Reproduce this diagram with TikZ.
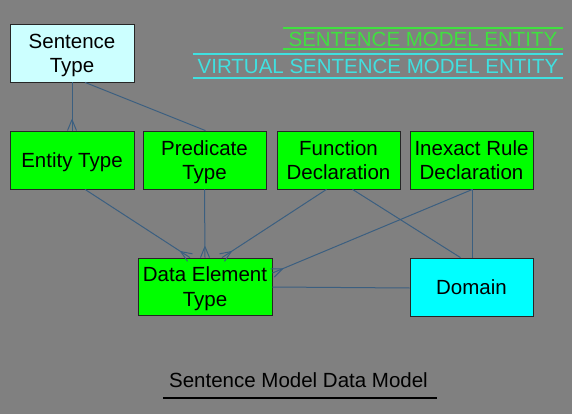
\documentclass[tikz,border=0pt]{standalone}
\usepackage{fontspec}
\setmainfont{Liberation Sans}
\usetikzlibrary{decorations.markings}
\definecolor{bg}{HTML}{808080}
\definecolor{ent}{HTML}{00FF00}
\definecolor{virt}{HTML}{00FFFF}
\definecolor{pale}{HTML}{CCFFFF}
\definecolor{conncol}{HTML}{3B5F80}
\definecolor{leggreen}{HTML}{40E040}
\definecolor{legcyan}{HTML}{40E0E0}
\newcommand{\lstrut}{\rule[-4pt]{0pt}{23pt}}
\tikzset{
  box/.style={draw=black!85, line width=0.8pt, rectangle, align=center, inner sep=0pt,
    font=\fontsize{20.5}{24.5}\selectfont, text=black},
  entbox/.style={box, fill=ent},
  virtbox/.style={box, fill=virt},
  conn/.style={draw=conncol, line width=1pt},
  crow/.style={conn, decoration={markings, mark=at position 1 with {
      \draw[conncol, line width=1pt] (-11pt,0) -- (0,4.5pt) (-11pt,0) -- (0,-4.5pt);}},
    postaction={decorate}},
  legtext/.style={font=\fontsize{20.5}{24}\selectfont, inner sep=0pt}
}
\begin{document}
\begin{tikzpicture}[x=1pt,y=-1pt]
\fill[bg] (0,0) rectangle (572,414);
\useasboundingbox (0,0) rectangle (572,414);

\node[box, fill=pale, minimum width=124pt, minimum height=58pt] (st) at (72,53) {\lstrut Sentence\\\lstrut Type};
\node[entbox, minimum width=124pt, minimum height=58pt] (et) at (72,160) {\lstrut Entity Type};
\node[entbox, minimum width=123pt, minimum height=58pt] (pt) at (204.5,160) {\lstrut Predicate\\\lstrut Type};
\node[entbox, minimum width=123pt, minimum height=58pt] (fd) at (338.5,160) {\lstrut Function\\\lstrut Declaration};
\node[entbox, minimum width=123pt, minimum height=58pt] (ir) at (471.5,160) {\lstrut Inexact Rule\\\lstrut Declaration};
\node[entbox, minimum width=134pt, minimum height=57pt] (de) at (205,286.5) {\lstrut Data Element\\\lstrut Type};
\node[virtbox, minimum width=123pt, minimum height=58pt] (dom) at (471.5,287) {\lstrut Domain};

% connectors
\draw[crow] (st.south) -- (et.north);
\draw[conn] ([xshift=13pt]st.south) -- ([xshift=1pt]pt.north);
\draw[crow] ([xshift=13pt]et.south) -- ([xshift=-15pt]de.north);
\draw[crow] (pt.south) -- (de.north);
\draw[crow] ([xshift=-12pt]fd.south) -- ([xshift=17pt]de.north);
\draw[conn] ([xshift=14pt]fd.south) -- ([xshift=-11pt]dom.north);
\draw[crow] ([xshift=1pt]ir.south) -- ([yshift=13.5pt]de.east);
\draw[conn] ([xshift=1pt]ir.south) -- ([xshift=1pt]dom.north);
\draw[conn] ([yshift=-0.5pt]de.east) -- ([yshift=-1pt]dom.west);

% legend
\coordinate (g1a) at (283,28); \coordinate (g1b) at (563,28);
\coordinate (g2a) at (283,49); \coordinate (g2b) at (563,49);
\coordinate (c1a) at (193,54); \coordinate (c1b) at (563,54);
\coordinate (c2a) at (193,78); \coordinate (c2b) at (563,78);
\draw[leggreen, line width=2pt] (g1a) -- (g1b) (g2a) -- (g2b);
\draw[legcyan, line width=2pt] (c1a) -- (c1b) (c2a) -- (c2b);
\node[legtext, text=leggreen] (lg) at (423,39) {SENTENCE MODEL ENTITY};
\node[legtext, text=legcyan] (lc) at (378,66) {VIRTUAL SENTENCE MODEL ENTITY};

% title
\node[legtext, text=black] (title) at (298.5,380) {Sentence Model Data Model};
\coordinate (ula) at (163,398); \coordinate (ulb) at (437,398);
\draw[black, line width=2pt] (ula) -- (ulb);
\end{tikzpicture}
\end{document}
